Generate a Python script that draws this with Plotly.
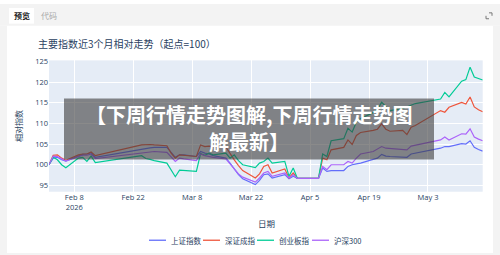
import plotly.graph_objects as go

W, H = 500, 255

dates = [
    "2026-02-02", "2026-02-03", "2026-02-04", "2026-02-05", "2026-02-06",
    "2026-02-09", "2026-02-10", "2026-02-11", "2026-02-12", "2026-02-13",
    "2026-02-24", "2026-02-25", "2026-02-26", "2026-02-27",
    "2026-03-02", "2026-03-03", "2026-03-04", "2026-03-05", "2026-03-06",
    "2026-03-09", "2026-03-10", "2026-03-11", "2026-03-12", "2026-03-13",
    "2026-03-16", "2026-03-17", "2026-03-18", "2026-03-19", "2026-03-20",
    "2026-03-23", "2026-03-24", "2026-03-25", "2026-03-26", "2026-03-27",
    "2026-03-30", "2026-03-31", "2026-04-01", "2026-04-02", "2026-04-03",
    "2026-04-07", "2026-04-08", "2026-04-09", "2026-04-10",
    "2026-04-13", "2026-04-14", "2026-04-15", "2026-04-16", "2026-04-17",
    "2026-04-20", "2026-04-21", "2026-04-22", "2026-04-23", "2026-04-24",
    "2026-04-27", "2026-04-28", "2026-04-29", "2026-04-30",
    "2026-05-06", "2026-05-07", "2026-05-08",
    "2026-05-11", "2026-05-12", "2026-05-13", "2026-05-14", "2026-05-15", "2026-05-16",
]

shanghai = [
    100, 101.6, 101.8, 101.2, 100.9, 102.2, 102.5, 102.6, 102.9, 101.8,
    103.9, 104.0, 104.1, 104.2,
    104.2, 103.0, 101.8, 102.4, 102.4,
    102.0, 103.2, 102.8, 102.6, 102.2,
    101.6, 100.4, 99.0, 97.6, 96.6,
    95.2, 96.2, 97.6, 97.8, 96.8,
    97.6, 96.6, 97.2, 96.7, 96.7,
    96.7, 99.2, 98.4, 98.6,
    98.6, 99.6, 100.0, 100.2, 100.4,
    101.3, 101.6, 102.5, 102.1, 102.0,
    101.9, 101.8, 102.6, 102.8,
    104.0, 104.4, 104.4,
    105.1, 105.0, 105.8, 104.2, 103.7, 103.3,
]

shenzhen = [
    100, 102.3, 102.4, 101.6, 101.1, 102.4, 102.6, 102.6, 103.1, 102.2,
    104.8, 104.9, 104.9, 104.8,
    104.6, 102.8, 101.6, 102.4, 102.3,
    102.0, 104.8, 104.4, 104.5, 104.4,
    104.3, 102.6, 101.2, 99.8, 98.6,
    96.8, 97.8, 99.6, 100.0, 98.0,
    99.0, 96.8, 98.0, 96.7, 96.7,
    96.7, 101.6, 101.2, 103.6,
    104.2, 106.0, 104.9, 107.1, 107.8,
    108.3, 108.6, 109.9, 108.6, 108.1,
    108.3, 107.3, 109.1, 109.5,
    113.1, 112.7, 113.9,
    115.1, 114.7, 116.4, 114.0, 113.3, 112.8,
]

chinext = [
    100, 101.8, 101.2, 100.0, 99.3, 101.6, 101.8, 100.8, 102.1, 100.5,
    102.2, 101.5, 101.3, 101.0,
    100.4, 98.8, 97.1, 98.7, 98.6,
    98.4, 102.7, 102.3, 102.8, 102.4,
    102.8, 101.6, 102.4, 101.0, 100.0,
    99.3, 100.4, 100.8, 101.6, 100.4,
    100.8, 97.2, 99.2, 96.7, 96.7,
    96.7, 102.6, 102.0, 105.8,
    106.3, 108.8, 107.9, 110.3, 111.2,
    112.6, 113.4, 115.1, 114.0, 113.1,
    113.6, 114.0, 114.4, 114.8,
    115.9, 117.5, 116.4,
    120.2, 120.6, 123.6, 121.2, 120.8, 120.5,
]

hs300 = [
    100, 102.1, 102.0, 101.4, 100.9, 102.0, 102.3, 102.3, 102.6, 101.5,
    102.8, 103.0, 103.1, 103.2,
    103.0, 101.8, 100.8, 101.6, 101.4,
    101.0, 102.6, 102.2, 102.0, 101.8,
    101.4, 100.2, 99.0, 97.8, 97.0,
    95.8, 96.8, 98.0, 98.4, 97.2,
    98.0, 96.8, 97.6, 96.7, 96.7,
    96.7, 99.6, 98.8, 100.0,
    100.0, 100.8, 100.4, 101.6, 102.6,
    103.2, 103.8, 104.4, 104.0, 103.9,
    103.7, 103.6, 104.5, 104.7,
    106.0, 106.7, 106.0,
    107.5, 107.4, 108.7, 106.7, 106.2, 105.8,
]

series_names = ["上证指数", "深证成指", "创业板指", "沪深300"]
series_values = [shanghai, shenzhen, chinext, hs300]
series_colors = ["#636efa", "#EF553B", "#00cc96", "#ab63fa"]

title_text = "主要指数近3个月相对走势（起点=100）"
x_title = "日期"
y_title = "相对指数"
overlay_lines = ["【下周行情走势图解,下周行情走势图", "解最新】"]
y_ticks = [95, 100, 105, 110, 115, 120, 125]

FONT = "Open Sans, Noto Sans CJK SC, sans-serif"
CJK = "Noto Sans CJK SC, sans-serif"


def px(x):
    return x / W


def py(y):
    return 1 - y / H


P = dict(xref="paper", yref="paper")


def label(x, y, text, size, color, xanchor="center", **kw):
    return dict(x=px(x), y=py(y), text=text, showarrow=False, xanchor=xanchor, yanchor="middle",
                font=dict(family=CJK, size=size, color=color), **P, **kw)


fig = go.Figure()
for name, vals, col in zip(series_names, series_values, series_colors):
    fig.add_trace(go.Scatter(x=dates, y=vals, mode="lines", name=name,
                             line=dict(color=col, width=1.2), showlegend=False))

GRAY = "#f3f3f3"
shapes = [
    dict(type="rect", x0=0, x1=px(W), y0=py(22), y1=py(0), fillcolor=GRAY, line_width=0, layer="below", **P),
    dict(type="rect", x0=0, x1=px(7), y0=py(H), y1=py(22), fillcolor=GRAY, line_width=0, layer="below", **P),
    dict(type="rect", x0=px(493), x1=px(W), y0=py(H), y1=py(22), fillcolor=GRAY, line_width=0, layer="below", **P),
    dict(type="rect", x0=0, x1=px(W), y0=py(H), y1=py(253), fillcolor=GRAY, line_width=0, layer="below", **P),
    dict(type="rect", x0=px(9), x1=px(34), y0=py(20), y1=py(4), fillcolor="#ffffff", line_width=0, layer="below", **P),
    dict(type="path", path=f"M {px(489)},{py(9)} L {px(492)},{py(9)} L {px(492)},{py(12)}",
         line=dict(color="#777", width=1), **P),
    dict(type="path", path=f"M {px(486)},{py(12)} L {px(486)},{py(15)} L {px(489)},{py(15)}",
         line=dict(color="#777", width=1), **P),
    dict(type="rect", x0=px(64), x1=px(434), y0=py(158), y1=py(96),
         fillcolor="rgba(60,60,60,0.6)", line_width=0, layer="above", **P),
]

annotations = [
    label(21.5, 12, "<b>预览</b>", 8, "#222"),
    label(49, 12, "代码", 8, "#aaa"),
    label(36, 40, title_text, 10, "#2a3f5f", xanchor="left"),
    label(18, 124, y_title, 8, "#2a3f5f", textangle=-90),
    label(266, 222, x_title, 8.5, "#2a3f5f"),
    label(249, 112.5, f"<b>{overlay_lines[0]}</b>", 20, "#ffffff"),
    label(249, 140, f"<b>{overlay_lines[1]}</b>", 20, "#ffffff"),
]

leg_x = [149, 203, 257, 312]
for lx, name, col in zip(leg_x, series_names, series_colors):
    shapes.append(dict(type="line", x0=px(lx), x1=px(lx + 17), y0=py(240), y1=py(240),
                       line=dict(color=col, width=1.3), **P))
    annotations.append(label(lx + 20, 240, name, 7.5, "#2a3f5f", xanchor="left"))

fig.update_layout(
    template="plotly",
    width=W, height=H, autosize=False,
    margin=dict(l=0, r=0, t=0, b=0, pad=0),
    paper_bgcolor="#ffffff",
    plot_bgcolor="#E5ECF6",
    font=dict(family=FONT, size=7.5, color="#2a3f5f"),
    shapes=shapes,
    annotations=annotations,
    xaxis=dict(type="date", domain=[px(49), px(482.7)], tick0="2026-02-08", dtick=14 * 86400000,
               gridcolor="white", showline=False, zeroline=False,
               tickfont=dict(size=7.5)),
    yaxis=dict(domain=[py(190.7), py(57.3)], range=[93.48, 125.24], tickvals=y_ticks,
               gridcolor="white", zeroline=False, tickfont=dict(size=7.5)),
)

fig.write_html("out.html")
